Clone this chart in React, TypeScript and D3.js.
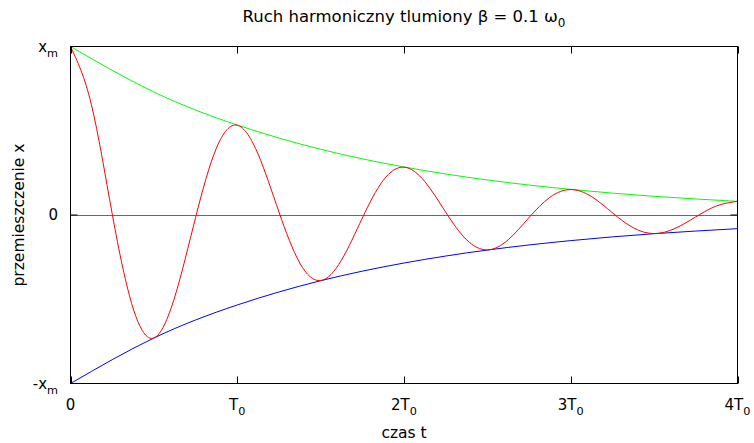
import { useEffect, useRef } from "react";
import * as d3 from "d3";

const W = 754;
const H = 443;
const M = { top: 47, right: 17, bottom: 60, left: 70 };

// time in units of T0, sampled every T0/8
const tSteps = d3.range(33).map((k) => k / 8);
// displacement x / x_m
const xValues = [
  1, 0.656, 0.007, -0.552, -0.73, -0.487, -0.015, 0.397, 0.533, 0.361, 0.018,
  -0.285, -0.389, -0.268, -0.018, 0.205, 0.284, 0.198, 0.017, -0.147, -0.207,
  -0.147, -0.015, 0.105, 0.151, 0.109, 0.013, -0.076, -0.11, -0.08, -0.011,
  0.054, 0.081,
];
// envelope e^(-bt), sampled every T0/2
const envT = [0, 0.5, 1, 1.5, 2, 2.5, 3, 3.5, 4];
const envValues = [1, 0.730, 0.534, 0.390, 0.285, 0.208, 0.152, 0.111, 0.081];

const xTicks = [0, 1, 2, 3, 4];
const xTickLabels: [string, string][] = [
  ["0", ""],
  ["T", "0"],
  ["2T", "0"],
  ["3T", "0"],
  ["4T", "0"],
];
const yTicks = [1, 0, -1];
const yTickLabels: [string, string][] = [
  ["x", "m"],
  ["0", ""],
  ["-x", "m"],
];

const FONT = "DejaVu Sans, sans-serif";

export default function App() {
  const svgRef = useRef<SVGSVGElement>(null);

  useEffect(() => {
    if (!svgRef.current) return;
    const svg = d3.select(svgRef.current);
    svg.selectAll("*").remove();

    const x = d3.scaleLinear().domain([0, 4]).range([M.left + 0.5, W - M.right + 0.5]);
    const y = d3.scaleLinear().domain([-1, 1]).range([H - M.bottom + 0.5, M.top - 0.5]);

    const addLabel = (
      g: d3.Selection<SVGTextElement, unknown, null, undefined>,
      [main, sub]: [string, string],
      size: number
    ) => {
      g.append("tspan").text(main);
      if (sub) {
        g.append("tspan").attr("font-size", size * 0.75).attr("dy", 5).text(sub);
      }
    };

    // zero line
    svg
      .append("line")
      .attr("x1", x(0))
      .attr("x2", x(4))
      .attr("y1", Math.round(y(0)) + 0.5)
      .attr("y2", Math.round(y(0)) + 0.5)
      .attr("stroke", "#ff00ff")
      .attr("stroke-width", 1);

    const lineEnv = d3
      .line<number>()
      .x((_, i) => x(envT[i]))
      .curve(d3.curveNatural);

    svg
      .append("path")
      .datum(envValues)
      .attr("d", lineEnv.y((d) => y(d)))
      .attr("fill", "none")
      .attr("stroke", "#00ff00")
      .attr("stroke-width", 1);

    svg
      .append("path")
      .datum(envValues)
      .attr("d", lineEnv.y((d) => y(-d)))
      .attr("fill", "none")
      .attr("stroke", "#0000ff")
      .attr("stroke-width", 1);

    svg
      .append("path")
      .datum(xValues)
      .attr(
        "d",
        d3
          .line<number>()
          .x((_, i) => x(tSteps[i]))
          .y((d) => y(d))
          .curve(d3.curveNatural)
      )
      .attr("fill", "none")
      .attr("stroke", "#ff0000")
      .attr("stroke-width", 1);

    // frame
    svg
      .append("rect")
      .attr("x", x(0))
      .attr("y", y(1))
      .attr("width", x(4) - x(0))
      .attr("height", y(-1) - y(1))
      .attr("fill", "none")
      .attr("stroke", "#000")
      .attr("stroke-width", 1);

    // ticks (inside, mirrored)
    const T = 7;
    xTicks.forEach((t) => {
      svg.append("line").attr("x1", Math.round(x(t)) + 0.5).attr("x2", Math.round(x(t)) + 0.5)
        .attr("y1", y(-1)).attr("y2", y(-1) - T).attr("stroke", "#000");
      svg.append("line").attr("x1", Math.round(x(t)) + 0.5).attr("x2", Math.round(x(t)) + 0.5)
        .attr("y1", y(1)).attr("y2", y(1) + T).attr("stroke", "#000");
    });
    yTicks.forEach((t) => {
      svg.append("line").attr("x1", x(0)).attr("x2", x(0) + T)
        .attr("y1", y(t)).attr("y2", y(t)).attr("stroke", "#000");
      svg.append("line").attr("x1", x(4)).attr("x2", x(4) - T)
        .attr("y1", y(t)).attr("y2", y(t)).attr("stroke", "#000");
    });

    xTicks.forEach((t, i) => {
      const txt = svg
        .append("text")
        .attr("x", x(t))
        .attr("y", 410)
        .attr("text-anchor", "middle")
        .attr("font-family", FONT)
        .attr("font-size", 15);
      addLabel(txt, xTickLabels[i], 15);
    });

    yTicks.forEach((t, i) => {
      const txt = svg
        .append("text")
        .attr("x", 58)
        .attr("y", y(t) + 5)
        .attr("text-anchor", "end")
        .attr("font-family", FONT)
        .attr("font-size", 15);
      addLabel(txt, yTickLabels[i], 15);
    });

    // title
    const title = svg
      .append("text")
      .attr("x", (x(0) + x(4)) / 2)
      .attr("y", 22)
      .attr("text-anchor", "middle")
      .attr("font-family", FONT)
      .attr("font-size", 16.5);
    title.append("tspan").text("Ruch harmoniczny tlumiony β = 0.1 ω");
    title.append("tspan").attr("font-size", 12).attr("dy", 5).text("0");

    svg
      .append("text")
      .attr("x", (x(0) + x(4)) / 2)
      .attr("y", 438)
      .attr("text-anchor", "middle")
      .attr("font-family", FONT)
      .attr("font-size", 15.5)
      .text("czas t");

    svg
      .append("text")
      .attr("transform", `translate(24,${(y(1) + y(-1)) / 2}) rotate(-90)`)
      .attr("text-anchor", "middle")
      .attr("font-family", FONT)
      .attr("font-size", 15.5)
      .text("przemieszczenie x");
  }, []);

  return (
    <svg
      ref={svgRef}
      width={W}
      height={H}
      viewBox={`0 0 ${W} ${H}`}
      style={{ position: "absolute", left: 0, top: 0, background: "#fff" }}
    />
  );
}
